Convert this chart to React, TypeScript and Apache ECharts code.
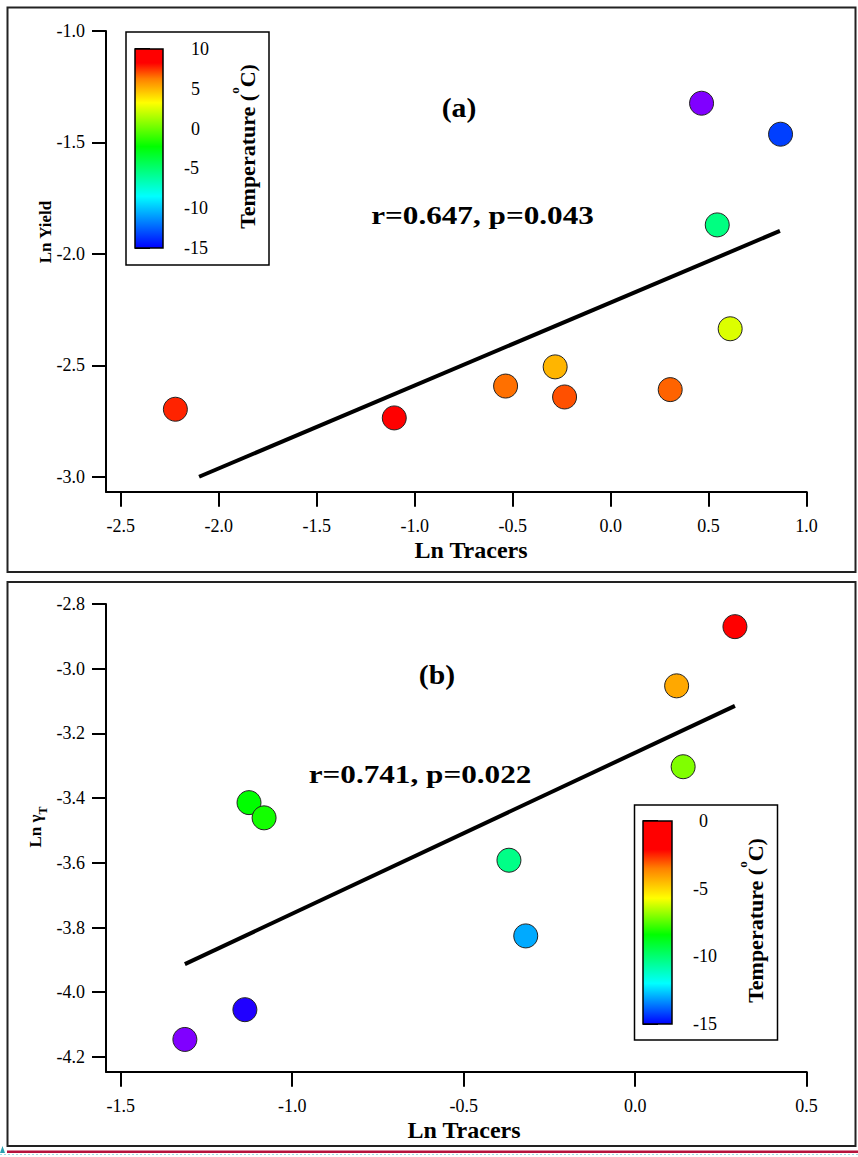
import React, { useEffect, useRef } from 'react';
import * as echarts from 'echarts';

// ---------- Data ----------
// Panel (a)
const aTracers = [-2.221, -1.104, -0.536, -0.283, -0.235, 0.304, 0.464, 0.867, 0.544, 0.61];
const aYield = [-2.697, -2.736, -2.593, -2.507, -2.642, -2.609, -1.324, -1.463, -1.87, -2.336];
const aTemp = [7.7, 9.0, 6.5, 5.0, 7.0, 6.7, -18.0, -13.4, -5.4, 2.5];
const aFitX = [-2.1, 0.864];
const aFitY = [-3.0, -1.897];
const aXTicks = [-2.5, -2.0, -1.5, -1.0, -0.5, 0.0, 0.5, 1.0];
const aYTicks = [-3.0, -2.5, -2.0, -1.5, -1.0];
const aTempMin = -15;
const aTempMax = 10;

// Panel (b)
const bTracers = [-1.313, -1.138, -1.126, -1.082, -0.368, -0.319, 0.121, 0.291, 0.14];
const bGamma = [-4.146, -4.054, -3.414, -3.461, -3.592, -3.826, -3.053, -2.87, -3.303];
const bTemp = [-17.0, -15.5, -8.4, -8.2, -10.3, -13.0, -4.2, -1.0, -7.05];
const bFitX = [-1.313, 0.291];
const bFitY = [-3.913, -3.115];
const bXTicks = [-1.5, -1.0, -0.5, 0.0, 0.5];
const bYTicks = [-4.2, -4.0, -3.8, -3.6, -3.4, -3.2, -3.0, -2.8];
const bTempMin = -15;
const bTempMax = 0;

// ---------- Styles ----------
const FONT = 'Liberation Serif';
const aColormap: [number, string][] = [
  [-18, '#8000ff'], [-15, '#0000ff'], [-8.5, '#00ffff'], [-2.25, '#00ff00'],
  [3.25, '#ffff00'], [6.25, '#ff8000'], [8.25, '#ff0000'], [10, '#ff0000'],
];
const bColormap: [number, string][] = [
  [-17, '#8000ff'], [-15, '#0000ff'], [-12, '#00ffff'], [-8.4, '#00ff00'],
  [-5.7, '#ffff00'], [-3.5, '#ff8000'], [-2.1, '#ff0000'], [0, '#ff0000'],
];

function hexToRgb(h: string) {
  return [parseInt(h.slice(1, 3), 16), parseInt(h.slice(3, 5), 16), parseInt(h.slice(5, 7), 16)];
}
function colorAt(map: [number, string][], t: number) {
  if (t <= map[0][0]) return map[0][1];
  if (t >= map[map.length - 1][0]) return map[map.length - 1][1];
  for (let i = 0; i < map.length - 1; i++) {
    const [t0, c0] = map[i];
    const [t1, c1] = map[i + 1];
    if (t >= t0 && t <= t1) {
      const f = (t - t0) / (t1 - t0);
      const a = hexToRgb(c0);
      const b = hexToRgb(c1);
      const r = a.map((v, k) => Math.round(v + (b[k] - v) * f));
      return `rgb(${r[0]},${r[1]},${r[2]})`;
    }
  }
  return '#000';
}
function gradientFor(map: [number, string][], lo: number, hi: number) {
  const stops: { offset: number; color: string }[] = [];
  stops.push({ offset: 0, color: colorAt(map, lo) });
  map.forEach(([t, c]) => {
    if (t > lo && t < hi) stops.push({ offset: (t - lo) / (hi - lo), color: c });
  });
  stops.push({ offset: 1, color: colorAt(map, hi) });
  return new echarts.graphic.LinearGradient(0, 1, 0, 0, stops);
}

function mainXAxis(gridIndex: number, min: number, max: number, ticks: number[]) {
  return {
    type: 'value', gridIndex, min, max,
    axisLine: { show: true, onZero: false, lineStyle: { color: '#000', width: 2 } },
    axisTick: { show: true, inside: false, length: 15, customValues: ticks, lineStyle: { color: '#000', width: 2 } },
    axisLabel: {
      show: true, customValues: ticks, margin: 25, formatter: (v: number) => v.toFixed(1),
      fontFamily: FONT, fontSize: 18, color: '#000',
    },
    splitLine: { show: false },
  };
}
function mainYAxis(gridIndex: number, min: number, max: number, ticks: number[]) {
  return {
    type: 'value', gridIndex, min, max,
    axisLine: { show: true, onZero: false, lineStyle: { color: '#000', width: 2 } },
    axisTick: { show: true, inside: false, length: 14, customValues: ticks, lineStyle: { color: '#000', width: 2 } },
    axisLabel: {
      show: true, customValues: ticks, margin: 21, formatter: (v: number) => v.toFixed(1),
      fontFamily: FONT, fontSize: 18, color: '#000',
    },
    splitLine: { show: false },
  };
}
function barXAxis(gridIndex: number) {
  return { type: 'value', gridIndex, min: 0, max: 1, show: false };
}
function barYAxis(gridIndex: number, min: number, max: number, padLeft: number) {
  return {
    type: 'value', gridIndex, min, max, interval: 5, position: 'right',
    axisLine: { show: false },
    axisTick: { show: true, inside: false, length: 15, lineStyle: { color: '#000', width: 2 } },
    axisLabel: {
      show: true, margin: 21,
      formatter: (v: number) => (v < 0 ? `{t|${v}}` : `{q|${v}}`),
      rich: {
        t: { fontFamily: FONT, fontSize: 18, color: '#000' },
        q: { fontFamily: FONT, fontSize: 18, color: '#000', padding: [0, 0, 0, padLeft] },
      },
    },
    splitLine: { show: false },
  };
}
function colorbarSeries(axisIndex: number, map: [number, string][], lo: number, hi: number) {
  const grad = gradientFor(map, lo, hi);
  return {
    type: 'custom', xAxisIndex: axisIndex, yAxisIndex: axisIndex, silent: true,
    data: [[0.5, (lo + hi) / 2]],
    renderItem: (params: any) => {
      const cs = params.coordSys;
      return {
        type: 'rect',
        shape: { x: cs.x, y: cs.y, width: cs.width, height: cs.height },
        style: { fill: grad, stroke: '#000', lineWidth: 1.5 },
      };
    },
  };
}
function scatterSeries(axisIndex: number, xs: number[], ys: number[], ts: number[], map: [number, string][]) {
  return {
    type: 'scatter', xAxisIndex: axisIndex, yAxisIndex: axisIndex, z: 3,
    symbol: 'circle', symbolSize: 24,
    data: xs.map((x, i) => [x, ys[i], ts[i]]),
    itemStyle: {
      color: (p: any) => colorAt(map, p.value[2]),
      borderColor: '#222', borderWidth: 1, opacity: 1,
    },
  };
}
function fitSeries(axisIndex: number, xs: number[], ys: number[]) {
  return {
    type: 'line', xAxisIndex: axisIndex, yAxisIndex: axisIndex, z: 2,
    symbol: 'none', data: xs.map((x, i) => [x, ys[i]]),
    lineStyle: { color: '#000', width: 4 },
  };
}

function textEl(text: string, x: number, y: number, size: number, scaleX = 1, rotation = 0) {
  return {
    type: 'text', x, y, scaleX, rotation, z: 10,
    style: {
      text, fontFamily: FONT, fontWeight: 'bold', fontSize: size, fill: '#000',
      align: 'center', verticalAlign: 'middle',
    },
  };
}
function tempLabel(x: number, y: number) {
  return {
    type: 'text', x, y, rotation: Math.PI / 2, z: 10,
    style: {
      text: '{m|Temperature (}{s|o}{m|C)}',
      align: 'center', verticalAlign: 'middle', fill: '#000',
      rich: {
        m: { fontFamily: FONT, fontWeight: 'bold', fontSize: 22, lineHeight: 40, verticalAlign: 'middle', fill: '#000' },
        s: { fontFamily: FONT, fontWeight: 'bold', fontSize: 13, verticalAlign: 'top', fill: '#000' },
      },
    },
  };
}

const option: any = {
  animation: false,
  backgroundColor: '#fff',
  grid: [
    { left: 106, top: 31, width: 700.6, height: 460.7, outerBoundsMode: 'none' },
    { left: 135, top: 49, width: 28, height: 199, outerBoundsMode: 'none' },
    { left: 106, top: 604, width: 700.6, height: 467.7, outerBoundsMode: 'none' },
    { left: 643, top: 821, width: 29, height: 203, outerBoundsMode: 'none' },
  ],
  xAxis: [
    mainXAxis(0, -2.575, 1.0, aXTicks),
    barXAxis(1),
    mainXAxis(2, -1.543, 0.5, bXTicks),
    barXAxis(3),
  ],
  yAxis: [
    mainYAxis(0, -3.067, -1.0, aYTicks),
    barYAxis(1, aTempMin, aTempMax, 7),
    mainYAxis(2, -4.2457, -2.8, bYTicks),
    barYAxis(3, bTempMin, bTempMax, 6),
  ],
  series: [
    fitSeries(0, aFitX, aFitY),
    scatterSeries(0, aTracers, aYield, aTemp, aColormap),
    colorbarSeries(1, aColormap, aTempMin, aTempMax),
    fitSeries(2, bFitX, bFitY),
    scatterSeries(2, bTracers, bGamma, bTemp, bColormap),
    colorbarSeries(3, bColormap, bTempMin, bTempMax),
  ],
  graphic: [
    // panel frames
    { type: 'rect', z: 0, shape: { x: 7.5, y: 7.5, width: 848, height: 564.5 }, style: { fill: 'none', stroke: '#222', lineWidth: 2 } },
    { type: 'rect', z: 0, shape: { x: 7.5, y: 582, width: 848, height: 564 }, style: { fill: 'none', stroke: '#222', lineWidth: 2 } },
    // colorbar boxes
    { type: 'rect', z: 0, shape: { x: 126, y: 32, width: 143, height: 233 }, style: { fill: 'none', stroke: '#000', lineWidth: 1.5 } },
    { type: 'rect', z: 0, shape: { x: 634.5, y: 805, width: 143, height: 235 }, style: { fill: 'none', stroke: '#000', lineWidth: 1.5 } },
    // annotations
    textEl('(a)', 459, 108, 27, 1.1),
    textEl('r=0.647, p=0.043', 482.5, 214.5, 26, 1.2),
    textEl('(b)', 437, 675, 27, 1.1),
    textEl('r=0.741, p=0.022', 420, 774, 26, 1.2),
    // axis titles
    textEl('Ln Tracers', 471, 550, 24, 1.0),
    textEl('Ln Tracers', 464, 1130, 24, 1.0),
    textEl('Ln Yield', 45, 232, 17, 1.0, Math.PI / 2),
    {
      type: 'text', x: 35, y: 827, rotation: Math.PI / 2, z: 10,
      style: {
        text: '{m|Ln γ}{s|T}', align: 'center', verticalAlign: 'middle', fill: '#000',
        rich: {
          m: { fontFamily: FONT, fontWeight: 'bold', fontSize: 17, lineHeight: 28, verticalAlign: 'middle', fill: '#000' },
          s: { fontFamily: FONT, fontWeight: 'bold', fontSize: 12, verticalAlign: 'bottom', fill: '#000' },
        },
      },
    },
    tempLabel(247.5, 146.5),
    tempLabel(755.8, 920.5),
    // page decorations below the figure
    { type: 'line', z: 0, shape: { x1: 7, y1: 1151.7, x2: 858, y2: 1151.7 }, style: { stroke: '#b5123c', lineWidth: 2.5 } },
    { type: 'line', z: 0, shape: { x1: 0, y1: 1154.5, x2: 858, y2: 1154.5 }, style: { stroke: '#9fdde3', lineWidth: 1, lineDash: [2, 2] } },
    { type: 'polygon', z: 0, shape: { points: [[0, 1153], [5, 1153], [2.5, 1146]] }, style: { fill: '#2aa0b0' } },
  ],
};

export default function App() {
  const ref = useRef<HTMLDivElement>(null);
  useEffect(() => {
    if (!ref.current) return;
    const chart = echarts.init(ref.current, null, { renderer: 'svg' });
    chart.setOption(option);
    return () => chart.dispose();
  }, []);
  return (
    <div
      ref={ref}
      style={{ position: 'absolute', left: 0, top: 0, width: 858, height: 1157, background: '#fff' }}
    />
  );
}
